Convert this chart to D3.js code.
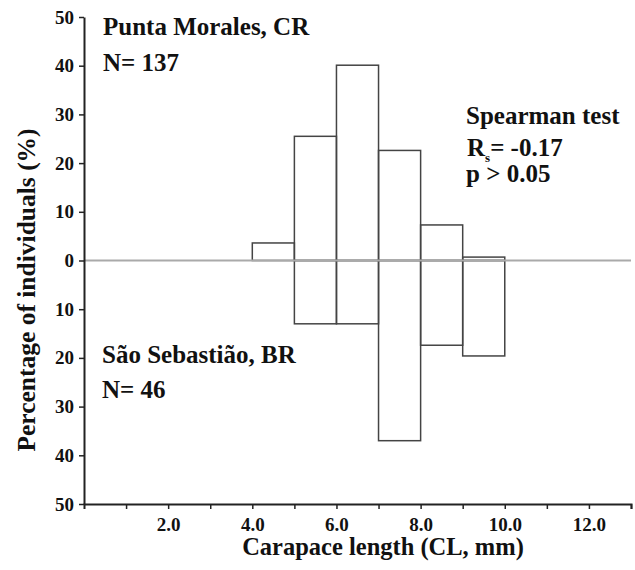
<!DOCTYPE html>
<html>
<head>
<meta charset="utf-8">
<script src="https://cdn.jsdelivr.net/npm/d3@7"></script>
<style>
  body { margin: 0; background: #fff; }
  text { font-family: "Liberation Serif", "Times New Roman", serif; font-weight: bold; fill: #111; }
  .tick text { font-size: 19px; }
</style>
</head>
<body>
<svg id="chart" width="635" height="570"></svg>
<script>
// size classes (lower edge of 1 mm bins, CL)
const binsTop = [4, 5, 6, 7, 8, 9];
const pctTop = [3.6, 25.5, 40.1, 22.6, 7.3, 0.7];      // Punta Morales, CR
const binsBottom = [5, 6, 7, 8, 9];
const pctBottom = [13.0, 13.0, 37.0, 17.4, 19.6];      // Sao Sebastiao, BR
const xTicks = [1, 2, 3, 4, 5, 6, 7, 8, 9, 10, 11, 12, 13];
const xTickLabels = [2, 4, 6, 8, 10, 12];
const yTicks = [-50, -40, -30, -20, -10, 0, 10, 20, 30, 40, 50];

const svg = d3.select("#chart");

const x = d3.scaleLinear().domain([0, 13]).range([84, 631]);
const y = d3.scaleLinear().domain([-50, 50]).range([504, 17]);

// top histogram
svg.append("g").selectAll("rect")
  .data(binsTop.map((b, i) => ({b: b, v: pctTop[i]})))
  .enter().append("rect")
  .attr("x", d => x(d.b))
  .attr("width", d => x(d.b + 1) - x(d.b))
  .attr("y", d => y(d.v))
  .attr("height", d => y(0) - y(d.v))
  .attr("fill", "none")
  .attr("stroke", "#444")
  .attr("stroke-width", 1.5)

// bottom histogram (mirrored)
svg.append("g").selectAll("rect")
  .data(binsBottom.map((b, i) => ({b: b, v: pctBottom[i]})))
  .enter().append("rect")
  .attr("x", d => x(d.b))
  .attr("width", d => x(d.b + 1) - x(d.b))
  .attr("y", y(0))
  .attr("height", d => y(-d.v) - y(0))
  .attr("fill", "none")
  .attr("stroke", "#444")
  .attr("stroke-width", 1.5)

// zero line on top of the bar edges
svg.append("line")
  .attr("x1", x(0)).attr("x2", x(13))
  .attr("y1", y(0)).attr("y2", y(0))
  .attr("stroke", "#aaa")
  .attr("stroke-width", 1.8)

// axes
const xAxis = svg.append("g")
  .attr("transform", `translate(0,${y(-50)})`)
  .call(d3.axisBottom(x).tickValues(xTicks).tickSize(5).tickFormat(d => xTickLabels.includes(d) ? d3.format(".1f")(d) : ""))
xAxis.attr("font-size", null).attr("font-family", null)
xAxis.select(".domain").attr("stroke", "#222").attr("stroke-width", 2)
xAxis.selectAll(".tick line").attr("stroke", "#222").attr("stroke-width", 1.5)
xAxis.selectAll(".tick text")
  .attr("y", 27)
  .attr("dy", 0)

const yAxis = svg.append("g")
  .attr("transform", `translate(${x(0)},0)`)
  .call(d3.axisLeft(y).tickValues(yTicks).tickSize(5).tickSizeOuter(0).tickFormat(d => Math.abs(d)))
yAxis.attr("font-size", null).attr("font-family", null)
yAxis.select(".domain").attr("stroke", "#222").attr("stroke-width", 2)
yAxis.selectAll(".tick line").attr("stroke", "#222").attr("stroke-width", 1.5)
yAxis.selectAll(".tick text")
  .attr("x", -10)

// axis titles
svg.append("text")
  .attr("x", 383).attr("y", 555)
  .attr("text-anchor", "middle")
  .attr("font-size", 24.5)
  .text("Carapace length (CL, mm)")

svg.append("text")
  .attr("transform", "translate(35,290) rotate(-90)")
  .attr("text-anchor", "middle")
  .attr("font-size", 25.5)
  .text("Percentage of individuals (%)")

// annotations
const notes = [
  {t: "Punta Morales, CR", x: 103, y: 35},
  {t: "N= 137", x: 103, y: 71},
  {t: "Spearman test", x: 466, y: 124},
  {t: "p > 0.05", x: 466, y: 182},
  {t: "São Sebastião, BR", x: 102, y: 363},
  {t: "N= 46", x: 102, y: 398}
];
svg.append("g").selectAll("text")
  .data(notes)
  .enter().append("text")
  .attr("x", d => d.x)
  .attr("y", d => d.y)
  .attr("font-size", 25)
  .text(d => d.t)

const rs = svg.append("text")
  .attr("x", 467).attr("y", 156)
  .attr("font-size", 25)
rs.append("tspan").text("R")
rs.append("tspan").attr("font-size", 13).attr("dy", 6).text("s")
rs.append("tspan").attr("dy", -6).text("= -0.17")
</script>
</body>
</html>
